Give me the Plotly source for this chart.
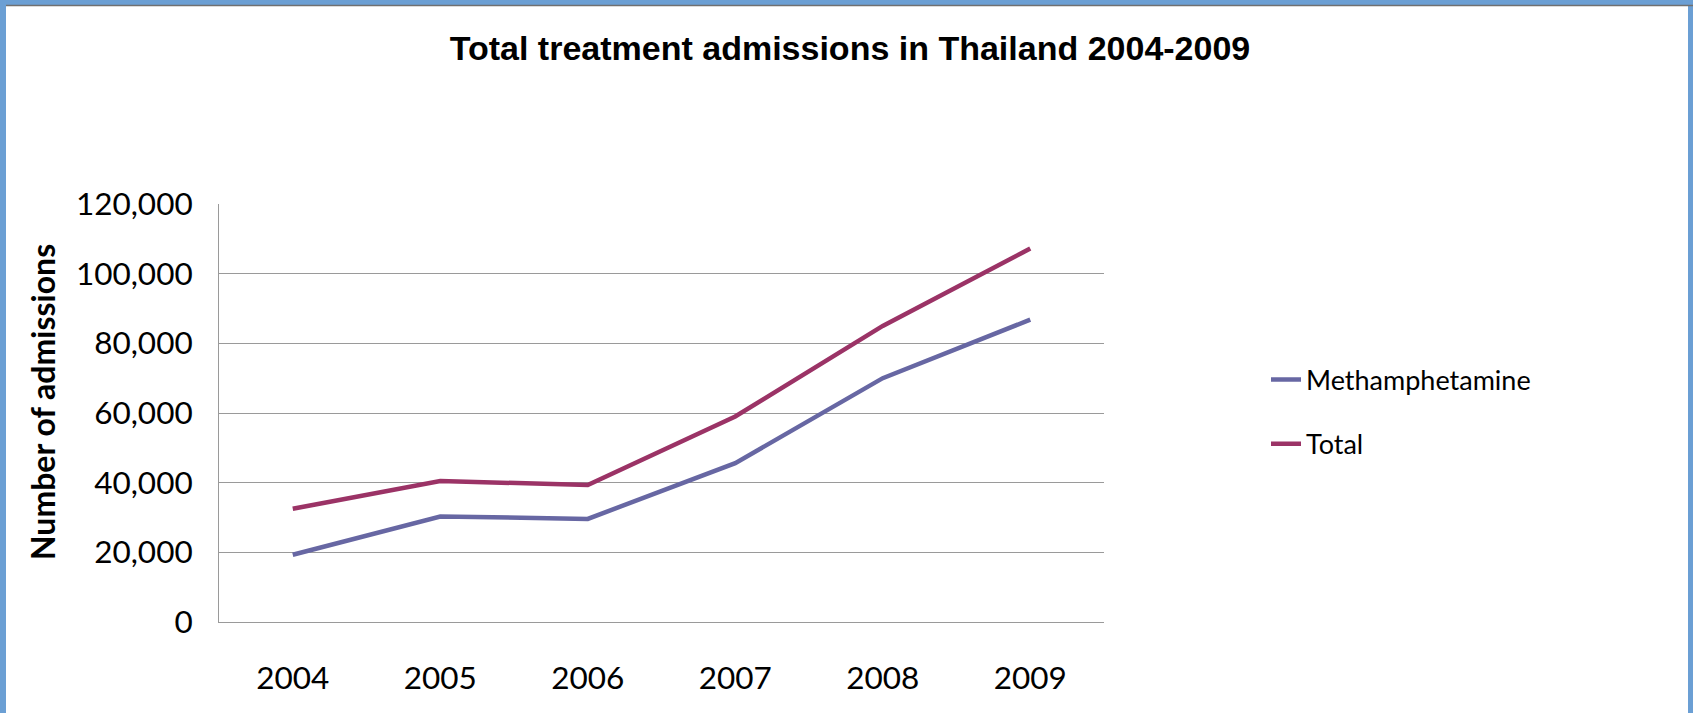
import plotly.graph_objects as go

years = ["2004", "2005", "2006", "2007", "2008", "2009"]
methamphetamine = [19300, 30300, 29600, 45600, 70000, 86800]
total = [32500, 40500, 39300, 59000, 85000, 107200]
y_ticks = [0, 20000, 40000, 60000, 80000, 100000, 120000]
y_tick_text = ["0", "20,000", "40,000", "60,000", "80,000", "100,000", "120,000"]

W, H = 1693, 713
L, R, T, B = 219, 1104, 204, 622  # plot area in pixels
pw, ph = R - L, B - T

def px(x):
    return (x - L) / pw

def py(y):
    return (B - y) / ph

fig = go.Figure()
fig.add_trace(go.Scatter(x=years, y=methamphetamine, mode="lines", name="Methamphetamine",
                         legendgroup="a", line=dict(color="#6767A3", width=4.5)))
fig.add_trace(go.Scatter(x=years, y=total, mode="lines", name="Total",
                         legendgroup="b", line=dict(color="#9B3366", width=4.5)))

frame_blue = "#6B9FD4"
shapes = [
    dict(type="rect", xref="paper", yref="paper", x0=px(0), x1=px(6), y0=py(H), y1=py(0),
         fillcolor=frame_blue, line=dict(width=0), layer="above"),
    dict(type="rect", xref="paper", yref="paper", x0=px(W - 5), x1=px(W), y0=py(H), y1=py(0),
         fillcolor=frame_blue, line=dict(width=0), layer="above"),
    dict(type="rect", xref="paper", yref="paper", x0=px(0), x1=px(W), y0=py(5), y1=py(0),
         fillcolor=frame_blue, line=dict(width=0), layer="above"),
    dict(type="line", xref="paper", yref="paper", x0=px(6), x1=px(W), y0=py(5.5), y1=py(5.5),
         line=dict(color="#707070", width=1.5), layer="above"),
]

tick_font = dict(family="Lato, sans-serif", size=31.5, color="black")

fig.update_layout(
    width=W, height=H,
    margin=dict(l=L, r=W - R, t=T, b=H - B, autoexpand=False),
    paper_bgcolor="white", plot_bgcolor="white",
    title=dict(text="<b>Total treatment admissions in Thailand 2004-2009</b>",
               font=dict(family="Liberation Sans, Arial, sans-serif", size=34, color="black"),
               x=850 / W, xanchor="center", xref="container",
               y=1 - 48 / H, yanchor="middle", yref="container"),
    xaxis=dict(type="category", range=[-0.5, 5.5], showgrid=False, showline=True,
               linecolor="#9a9a9a", linewidth=1, ticks="", ticklabelstandoff=28,
               tickfont=tick_font, zeroline=False, fixedrange=True),
    yaxis=dict(range=[0, 120000], tickvals=y_ticks, ticktext=y_tick_text,
               showgrid=True, gridcolor="#9a9a9a", gridwidth=1,
               showline=True, linecolor="#9a9a9a", linewidth=1, ticks="",
               ticklabelstandoff=19, zeroline=False, mirror=False,
               tickfont=tick_font, fixedrange=True),
    annotations=[dict(text="<b>Number of admissions</b>", xref="paper", yref="paper",
                      x=px(42), y=py(402), xanchor="center", yanchor="middle",
                      textangle=-90, showarrow=False,
                      font=dict(family="Lato, sans-serif", size=32, color="black"))],
    showlegend=True,
    legend=dict(x=px(1266), xanchor="left", y=py(412), yanchor="middle",
                font=dict(family="Lato, sans-serif", size=27, color="black"),
                tracegroupgap=26, bgcolor="rgba(0,0,0,0)", itemwidth=30),
    shapes=shapes,
)

fig.write_html("out.html", config={"displayModeBar": False},
               post_script="document.body.style.margin='0';document.body.style.overflow='hidden';")
